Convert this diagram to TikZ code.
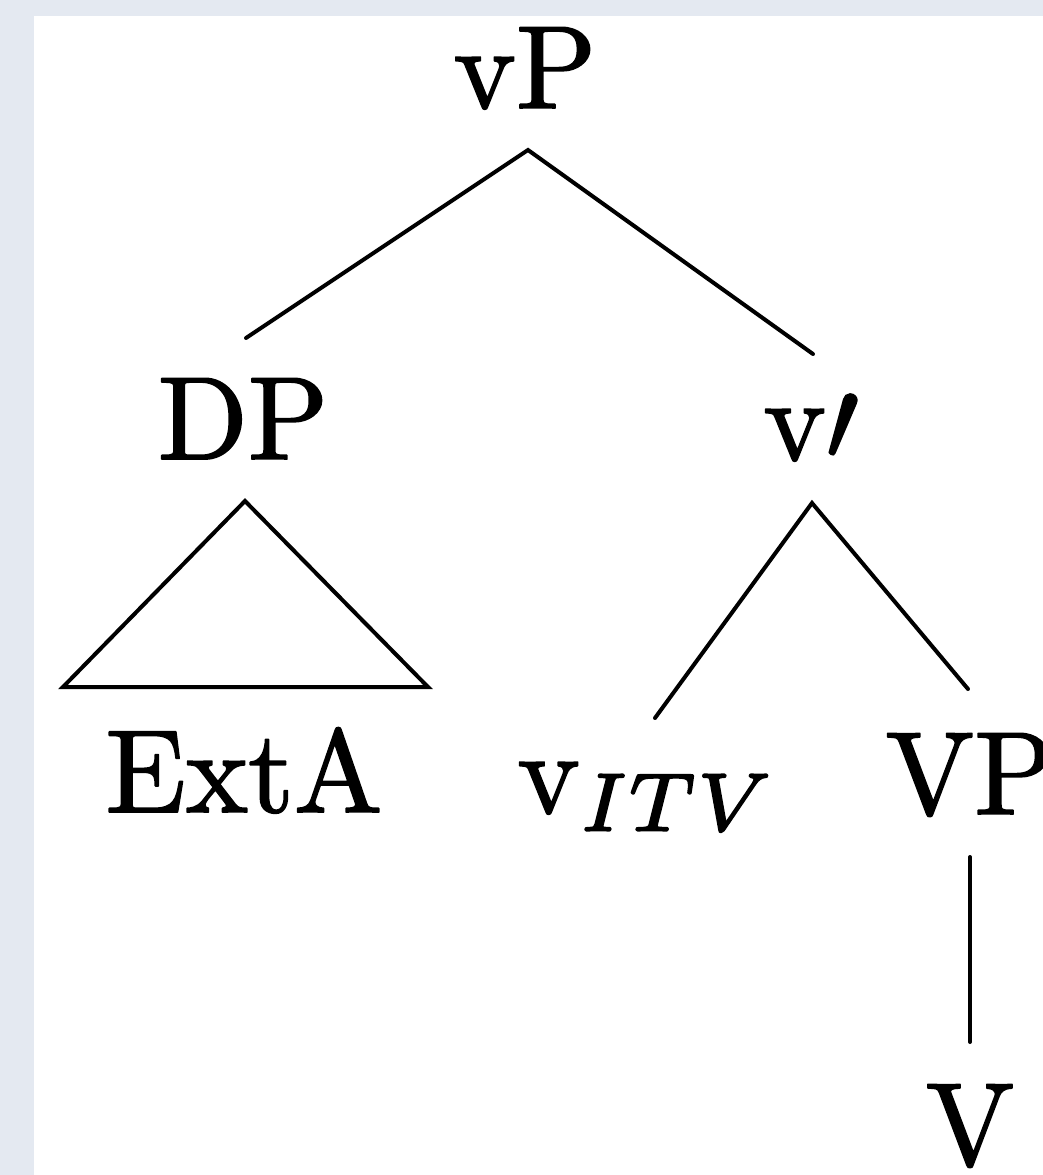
\RequirePackage{fix-cm}
\documentclass[tikz,border=0pt]{standalone}
\definecolor{pagebg}{HTML}{E4E9F1}
\newcommand{\bigtxt}[1]{\scalebox{5.9}{\special{pdf:literal direct 0.15 w 1 j 2 Tr}#1\special{pdf:literal direct 0 Tr 0 j}}}
\begin{document}
\begin{tikzpicture}[x=0.5pt,y=-0.5pt,
  lbl/.style={inner sep=0pt,outer sep=0pt,anchor=base},
  branch/.style={line width=2pt,line cap=round,line join=miter}]
\useasboundingbox (0,0) rectangle (1043,1175);
\fill[pagebg] (0,0) rectangle (1043,1175);
\fill[white] (34,16) rectangle (1043,1175);
% labels
\node[lbl] (vP) at (525,108) {\bigtxt{vP}};
\node[lbl] (DP) at (243,459) {\bigtxt{DP}};
\node[lbl] (vbar) at (811,460) {\bigtxt{v$\prime$}};
\node[lbl] (ExtA) at (244,812) {\bigtxt{ExtA}};
\node[lbl] (vITV) at (648,813) {\bigtxt{v$_{ITV}$}};
\node[lbl] (VP) at (970,814) {\bigtxt{VP}};
\node[lbl] (V) at (970,1165) {\bigtxt{V}};
% branch points
\coordinate (vPb) at (528,150);
\coordinate (DPt) at (246,338);
\coordinate (vbart) at (813,354);
\coordinate (vbarb) at (812,503);
\coordinate (vITVt) at (655,718);
\coordinate (VPt) at (968,689);
\coordinate (VPb) at (970,857);
\coordinate (Vt) at (970,1042);
\coordinate (DPb) at (245,501);
\coordinate (triL) at (63,687);
\coordinate (triR) at (428,687);
% branches
\draw[branch] (DPt) -- (vPb) -- (vbart);
\draw[branch] (vITVt) -- (vbarb) -- (VPt);
\draw[branch] (VPb) -- (Vt);
\draw[branch] (DPb) -- (triL) -- (triR) -- cycle;
\end{tikzpicture}
\end{document}
